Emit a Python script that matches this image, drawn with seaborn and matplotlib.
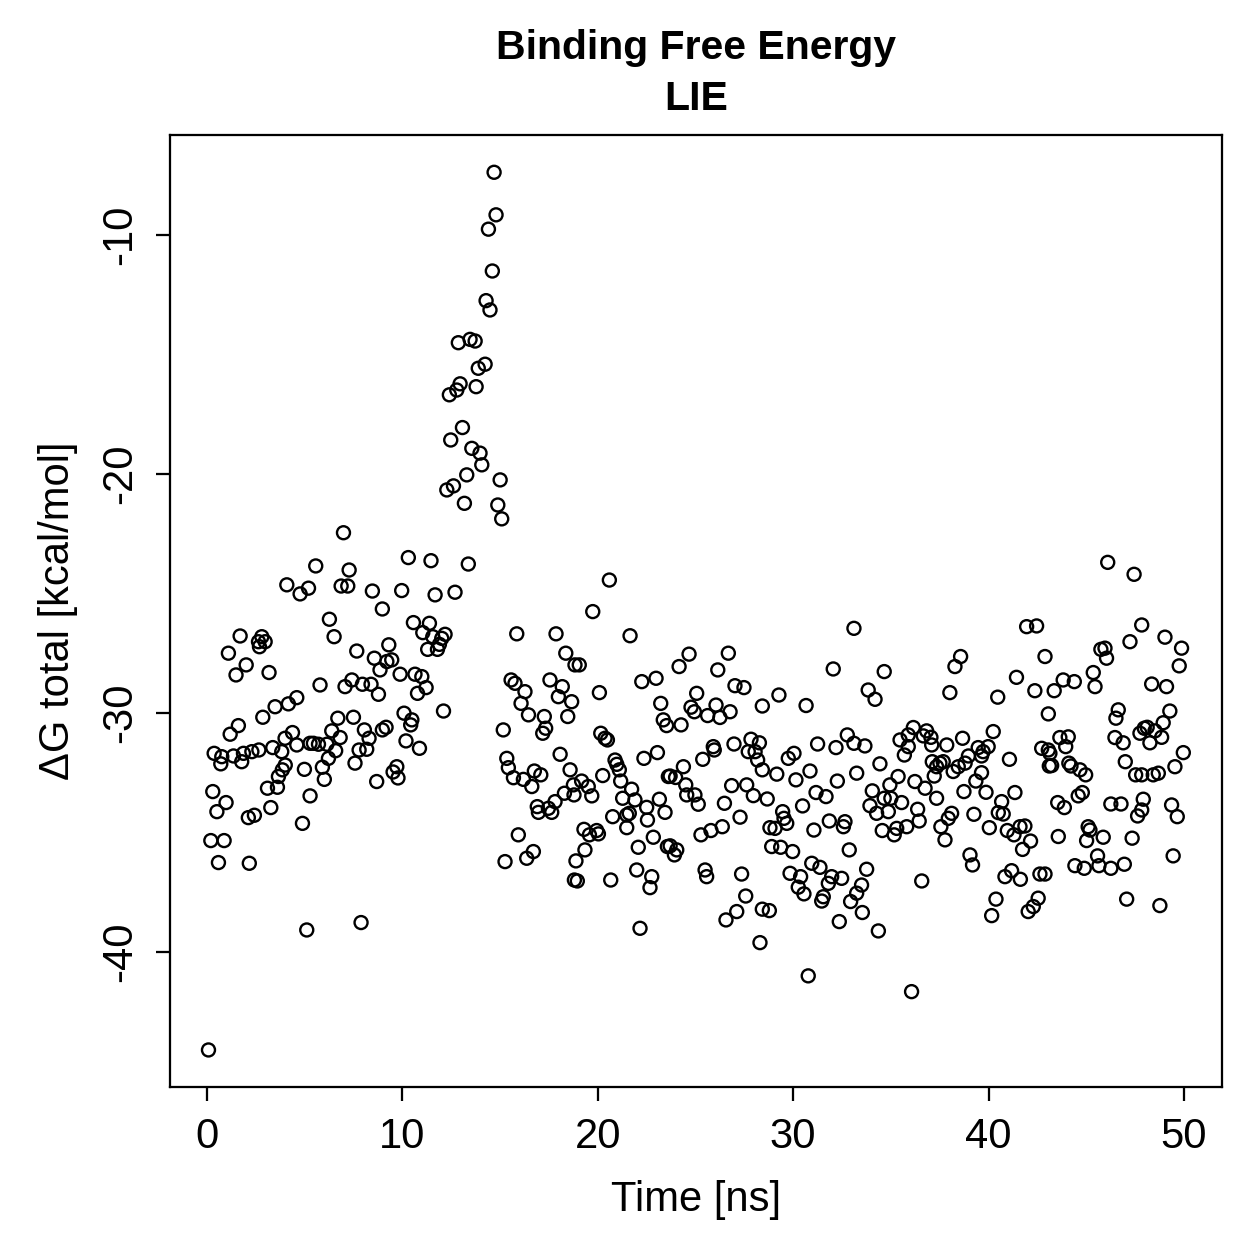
import numpy as np
import pandas as pd
import matplotlib
matplotlib.use("Agg")
import matplotlib.pyplot as plt
import seaborn as sns

# LIE binding free energy along the trajectory
time_ns = [
    # 0 - 4 ns
    0.07, 0.19, 0.29, 0.36, 0.50, 0.58, 0.70, 0.75, 0.87, 0.97,
    1.09, 1.18, 1.35, 1.48, 1.60, 1.69, 1.77, 1.86, 2.00, 2.11,
    2.16, 2.29, 2.42, 2.63, 2.65, 2.68, 2.80, 2.85, 2.97, 3.09,
    3.17, 3.26, 3.36, 3.48, 3.60, 3.65, 3.82, 3.85, 3.99, 4.00,
    4.08, 4.16,
    # 4 - 9 ns
    4.37, 4.59, 4.59, 4.76, 4.88, 4.98, 5.10, 5.19, 5.27, 5.27,
    5.44, 5.56, 5.70, 5.78, 5.90, 6.00, 6.13, 6.21, 6.26, 6.38,
    6.50, 6.58, 6.69, 6.81, 6.86, 6.98, 7.06, 7.20, 7.27, 7.41,
    7.49, 7.57, 7.66, 7.78, 7.88, 7.95, 8.05, 8.17, 8.29, 8.39,
    8.46, 8.56, 8.68, 8.77, 8.85, 8.97, 8.97, 9.30,
    # 9 - 13.5 ns
    9.20, 9.45, 9.88, 9.96, 10.08, 10.18, 10.30, 10.42, 10.48, 10.56,
    10.64, 10.77, 10.87, 10.99, 11.04, 11.21, 11.29, 11.38, 11.46, 11.55,
    11.67, 11.79, 11.89, 12.01, 12.10, 12.18, 12.69, 13.37, 9.16, 9.71,
    9.52, 9.77,
    # peak 12 - 15 ns
    14.69, 14.79, 14.40, 14.60, 14.28, 14.48, 12.86, 13.46, 13.72, 14.23,
    13.88, 12.95, 12.78, 12.40, 13.77, 13.07, 12.47, 13.55, 13.97, 14.06,
    13.29, 15.00, 12.27, 12.61, 13.17, 14.88, 15.08,
    # 15 - 19 ns
    15.85, 17.86, 18.36, 18.83, 15.56, 15.76, 16.27, 16.07, 16.45, 17.55,
    18.18, 17.98, 18.66, 18.46, 17.26, 17.33, 17.18, 15.16, 15.34, 18.07,
    18.58, 15.42, 16.75, 17.08, 15.68, 16.19, 16.62, 16.90, 16.96, 17.47,
    17.64, 17.81, 18.29, 18.75, 15.93, 16.70, 16.36, 15.25, 18.80,
    # 19 - 23.7 ns
    20.59, 19.74, 21.65, 19.05, 20.08, 22.25, 22.98, 23.22, 23.35, 23.52,
    20.15, 20.37, 20.49, 22.36, 23.05, 20.88, 20.97, 21.10, 20.25, 19.17,
    19.51, 19.69, 18.78, 21.17, 21.73, 21.90, 21.27, 23.61, 23.15, 23.44,
    22.50, 22.54, 20.76, 21.48, 21.61, 21.48, 19.29, 19.57, 19.94, 20.03,
    22.84, 23.56, 22.07, 19.34, 18.88, 21.99, 22.76, 22.67, 18.95, 20.66,
    22.16,
    # 23.7 - 28.5 ns
    24.67, 24.16, 26.68, 26.14, 27.02, 27.48, 25.06, 28.42, 24.77, 24.94,
    24.26, 25.62, 26.05, 26.25, 26.77, 25.91, 25.96, 25.37, 26.97, 27.84,
    27.70, 28.05, 28.27, 28.18, 28.42, 24.38, 23.70, 23.98, 24.50, 24.55,
    24.97, 25.14, 26.85, 27.62, 27.96, 26.48, 27.28, 26.37, 25.79, 25.28,
    23.70, 24.04, 23.92, 25.49, 25.57, 27.36, 27.57, 27.11, 26.56, 28.42,
    28.30,
    # 28.5 - 33.3 ns
    33.11, 32.05, 29.27, 30.66, 32.77, 33.11, 31.25, 32.19, 29.75, 30.04,
    29.16, 30.14, 30.86, 32.26, 33.25, 28.67, 31.17, 31.68, 30.48, 29.46,
    29.53, 29.67, 28.81, 29.07, 31.06, 31.85, 32.65, 32.57, 28.90, 29.36,
    29.97, 32.87, 30.95, 31.37, 29.84, 30.38, 30.26, 30.55, 31.97, 31.80,
    32.48, 31.54, 31.46, 32.94, 33.25, 28.78, 32.36, 30.77,
    # 33.3 - 38.3 ns
    34.66, 33.84, 34.19, 38.02, 38.28, 36.15, 35.89, 36.83, 37.05, 36.66,
    35.47, 35.89, 35.69, 37.09, 37.86, 33.67, 37.12, 37.51, 37.68, 37.34,
    37.22, 38.19, 34.44, 35.37, 34.95, 36.23, 36.75, 37.34, 34.05, 34.66,
    35.00, 35.55, 33.93, 34.27, 34.87, 36.37, 36.45, 35.81, 35.30, 35.17,
    34.56, 37.56, 37.77, 38.11, 37.94, 33.76, 33.50, 33.54, 36.58, 34.36,
    36.06,
    # 38.3 - 43.1 ns
    41.95, 42.46, 38.57, 42.89, 41.43, 40.47, 42.37, 43.06, 40.24, 38.67,
    39.47, 39.72, 39.98, 39.64, 38.97, 38.80, 38.45, 41.07, 42.72, 43.06,
    43.11, 39.64, 39.35, 38.74, 39.87, 41.35, 40.67, 40.50, 40.75, 39.25,
    40.04, 40.96, 41.30, 41.61, 41.86, 42.15, 41.74, 39.05, 39.18, 41.18,
    40.84, 41.63, 42.63, 42.89, 40.38, 40.16, 42.54, 42.29, 42.03,
    # 43.1 - 48 ns
    47.84, 47.24, 45.75, 45.96, 46.04, 43.82, 44.39, 43.36, 45.36, 45.45,
    46.64, 46.52, 43.65, 44.08, 43.95, 43.14, 46.47, 46.89, 47.75, 47.97,
    43.23, 44.11, 44.22, 44.68, 44.97, 47.00, 47.53, 44.59, 44.80, 43.54,
    43.88, 46.26, 46.78, 47.92, 47.63, 47.84, 45.10, 45.19, 45.02, 45.87,
    43.57, 47.35, 45.58, 44.42, 44.90, 45.65, 46.26, 46.95, 47.07, 46.10,
    47.45,
    # 48 - 50 ns
    49.03, 49.88, 49.76, 48.35, 49.11, 49.28, 48.94, 48.12, 48.52, 48.26,
    48.86, 49.97, 49.54, 48.43, 48.69, 47.84, 49.37, 49.66, 49.45, 48.77,
]

dg_total = [
    -44.1, -35.34, -33.29, -31.69, -34.13, -36.26, -32.13, -31.83, -35.34, -33.75,
    -27.50, -30.89, -31.80, -28.41, -30.53, -26.78, -32.04, -31.69, -27.99, -34.38,
    -36.29, -31.62, -34.28, -27.02, -31.55, -27.23, -26.81, -30.18, -27.02, -33.15,
    -28.31, -33.96, -31.45, -29.74, -33.11, -32.66, -31.62, -32.38, -31.06, -32.18,
    -24.64, -29.62,

    -30.82, -29.36, -31.34, -25.02, -34.62, -32.36, -39.08, -24.78, -31.27, -33.47,
    -31.27, -23.85, -31.31, -28.83, -32.27, -32.78, -31.31, -31.90, -26.08, -30.75,
    -26.81, -31.58, -30.22, -31.03, -24.69, -22.46, -28.90, -24.69, -24.02, -28.62,
    -30.18, -32.10, -27.41, -31.55, -38.77, -28.80, -30.71, -31.52, -31.06, -28.80,
    -24.90, -27.71, -32.87, -29.22, -28.20, -25.65, -30.71, -27.15,

    -27.85, -27.78, -28.38, -24.88, -30.01, -31.17, -23.50, -30.50, -30.29, -26.22,
    -28.38, -29.18, -31.48, -28.48, -26.64, -28.94, -27.34, -26.25, -23.63, -26.81,
    -25.06, -27.34, -27.13, -26.88, -29.92, -26.71, -24.95, -23.77, -30.60, -32.25,
    -32.47, -32.72,

    -7.38, -9.16, -9.76, -11.51, -12.75, -13.14, -14.51, -14.37, -14.44, -15.41,
    -15.58, -16.23, -16.49, -16.69, -16.35, -18.06, -18.58, -18.93, -19.13, -19.62,
    -20.04, -20.25, -20.67, -20.50, -21.23, -21.30, -21.88,

    -26.69, -26.69, -27.50, -27.99, -28.62, -28.76, -29.11, -29.60, -30.08, -28.62,
    -28.90, -29.32, -29.53, -30.15, -30.15, -30.64, -30.85, -30.71, -31.90, -31.73,
    -32.38, -32.29, -32.43, -32.59, -32.71, -32.78, -33.08, -33.92, -34.16, -33.99,
    -34.16, -33.71, -33.36, -33.01, -35.10, -35.80, -36.08, -36.22, -36.99,

    -24.44, -25.76, -26.77, -27.99, -29.15, -28.69, -28.55, -29.60, -30.29, -30.53,
    -30.85, -31.06, -31.13, -31.90, -31.66, -31.97, -32.15, -32.38, -32.62, -32.85,
    -33.08, -33.47, -33.43, -32.85, -33.19, -33.64, -33.57, -32.66, -33.61, -34.16,
    -33.95, -34.48, -34.34, -34.27, -34.20, -34.80, -34.87, -35.10, -34.92, -35.06,
    -35.20, -35.59, -35.62, -35.73, -36.19, -36.57, -36.85, -37.31, -37.03, -36.99,
    -39.01,

    -27.54, -28.06, -27.50, -28.20, -28.86, -28.94, -29.18, -29.71, -29.76, -29.95,
    -30.50, -30.11, -29.67, -30.19, -29.95, -31.41, -31.55, -31.94, -31.30, -31.10,
    -31.62, -31.62, -31.25, -31.97, -32.38, -32.25, -32.64, -32.70, -33.01, -33.43,
    -33.43, -33.82, -33.04, -33.01, -33.46, -33.78, -34.36, -34.76, -34.92, -35.10,
    -35.56, -35.73, -35.94, -36.57, -36.85, -36.74, -37.66, -38.31, -38.66, -38.21,
    -39.61,

    -26.46, -28.16, -29.25, -29.69, -30.92, -31.27, -31.30, -31.45, -31.90, -31.69,
    -32.56, -32.80, -32.43, -32.85, -32.52, -33.60, -33.33, -33.50, -33.89, -34.13,
    -34.41, -34.62, -34.80, -34.83, -34.90, -34.52, -34.55, -34.76, -35.59, -35.62,
    -35.80, -35.73, -36.29, -36.46, -36.71, -36.85, -37.29, -37.57, -36.85, -37.13,
    -36.92, -37.69, -37.87, -37.89, -37.54, -38.27, -38.73, -41.00,

    -28.27, -29.04, -29.43, -29.15, -28.06, -30.61, -30.92, -30.75, -31.02, -30.96,
    -31.13, -31.41, -31.76, -31.34, -31.34, -31.38, -32.04, -32.10, -32.04, -32.25,
    -32.64, -32.45, -32.13, -32.66, -33.01, -32.87, -33.15, -33.57, -33.26, -33.57,
    -33.57, -33.75, -33.88, -34.20, -34.13, -34.03, -34.52, -34.76, -34.83, -35.10,
    -34.92, -34.76, -35.31, -34.20, -34.41, -36.54, -37.20, -38.35, -37.03, -39.12,
    -41.66,

    -26.39, -26.36, -27.64, -27.64, -28.51, -29.34, -29.07, -30.04, -30.78, -31.06,
    -31.45, -31.62, -31.41, -31.80, -31.80, -32.10, -32.25, -31.94, -31.48, -31.55,
    -32.22, -32.50, -32.85, -33.29, -33.32, -33.33, -33.71, -34.17, -34.23, -34.24,
    -34.80, -34.92, -35.10, -34.76, -34.73, -35.36, -35.71, -35.94, -36.36, -36.60,
    -36.85, -36.96, -36.74, -36.74, -37.79, -38.48, -37.75, -38.10, -38.31,

    -26.32, -27.02, -27.34, -27.29, -27.71, -28.62, -28.69, -29.07, -28.31, -28.90,
    -29.87, -30.22, -31.03, -31.00, -31.41, -31.69, -31.03, -31.25, -30.85, -30.64,
    -32.20, -32.10, -32.22, -32.38, -32.59, -32.04, -32.59, -33.47, -33.33, -33.75,
    -33.96, -33.81, -33.81, -33.61, -34.31, -34.06, -34.76, -34.90, -35.34, -35.20,
    -35.17, -35.24, -35.98, -36.39, -36.50, -36.39, -36.50, -36.33, -37.79, -23.70,
    -24.20,

    -26.83, -27.29, -28.03, -28.79, -28.90, -29.92, -30.41, -30.60, -30.75, -31.25,
    -31.02, -31.66, -32.25, -32.59, -32.52, -32.59, -33.85, -34.34, -35.98, -38.06,
]

x_ticks = [0, 10, 20, 30, 40, 50]
y_ticks = [-40, -30, -20, -10]

assert len(time_ns) == len(dg_total)
df = pd.DataFrame({"time": time_ns, "dg": dg_total})

# base-R like look
sns.set_theme(style="ticks")
plt.rcParams['font.family'] = ['Liberation Sans', 'DejaVu Sans']
plt.rcParams['axes.edgecolor'] = 'black'
plt.rcParams['axes.linewidth'] = 0.9
plt.rcParams['text.color'] = 'black'
plt.rcParams['axes.labelcolor'] = 'black'
plt.rcParams['xtick.color'] = 'black'
plt.rcParams['ytick.color'] = 'black'
plt.rcParams['axes.unicode_minus'] = False

W = 1259
fig = plt.figure(figsize=(W / 180, W / 180), dpi=180)
ax = fig.add_axes([170 / W, 1 - 1087 / W, (1222 - 170) / W, (1087 - 135) / W])

sns.scatterplot(data=df, x="time", y="dg", ax=ax, marker="o", s=27,
                facecolor="none", edgecolor="black", linewidth=0.95)

ax.set_xlim(-1.9, 51.95)
ax.set_ylim(-45.65, -5.82)
ax.set_xticks(x_ticks)
ax.set_yticks(y_ticks)
ax.tick_params(direction="out", length=5.5, width=0.9, colors="black",
               labelsize=16.7, pad=6.5)
ax.tick_params(axis="y", labelrotation=90)
for lbl in ax.get_yticklabels():
    lbl.set_va("center")

for s in ax.spines.values():
    s.set_visible(True)
    s.set_color("black")

ax.set_xlabel("Time [ns]", fontsize=16.7, labelpad=9)
ax.set_ylabel("ΔG total [kcal/mol]", fontsize=16.7, labelpad=9)
ax.set_title("Binding Free Energy\nLIE", fontsize=16.4, fontweight="bold",
             pad=10, linespacing=1.42)

fig.savefig("out.png", dpi=180, facecolor="white")
